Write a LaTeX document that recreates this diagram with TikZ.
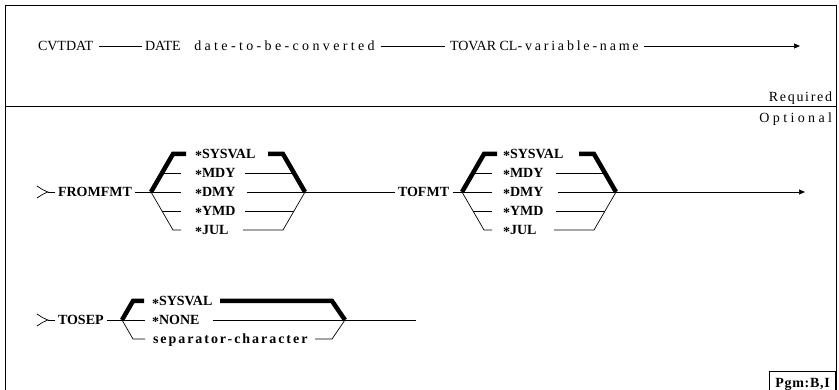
\documentclass[tikz,border=0pt]{standalone}
\usepackage{fontspec}
\setmainfont{Liberation Serif}
\newfontfamily\lsA[LetterSpace=20]{Liberation Serif}
\newfontfamily\lsD[LetterSpace=24]{Liberation Serif}
\newfontfamily\lsB[LetterSpace=14]{Liberation Serif}
\newfontfamily\lsR[LetterSpace=12]{Liberation Serif}
\newfontfamily\lsO[LetterSpace=24]{Liberation Serif}
\newfontfamily\lsP[LetterSpace=5]{Liberation Serif}
\newcommand\optstar{\raisebox{-2.5pt}{*}}
\usetikzlibrary{arrows.meta}
\tikzset{
  ln/.style={line width=0.7pt},
  bk/.style={line width=4.5pt, line join=miter},
  frm/.style={line width=0.8pt},
  txt/.style={anchor=west, inner sep=0pt, outer sep=0pt, text height=9pt, text depth=0pt, font=\fontsize{14}{16}\selectfont},
  opt/.style={txt, font=\fontsize{14}{16}\selectfont\bfseries},
  arr/.style={ln, -{Triangle[length=6pt,width=5pt]}},
}
\newcommand\fmtgrp[3]{%
  \begin{scope}[xshift=#2]
    \coordinate (#1L) at (151,192);
    \coordinate (#1TL) at (173,154);
    \coordinate (#1TLe) at (186,154);
    \coordinate (#1BL) at (173,230);
    \coordinate (#1BLe) at (181,230);
    \coordinate (#1Ma) at (162,173);
    \coordinate (#1Mb) at (181,173);
    \coordinate (#1Db) at (181,192);
    \coordinate (#1Ya) at (162,211);
    \coordinate (#1Yb) at (181,211);
    \coordinate (#1TRs) at (268,154);
    \coordinate (#1TR) at (283,154);
    \coordinate (#1R) at (305,192);
    \coordinate (#1Mc) at (245,173);
    \coordinate (#1Md) at (294,173);
    \coordinate (#1Dc) at (247,192);
    \coordinate (#1Yc) at (245,211);
    \coordinate (#1Yd) at (294,211);
    \coordinate (#1Jc) at (243,230);
    \coordinate (#1BR) at (283,230);
  \end{scope}
  \node[opt] (#1s) at (#3,154) {\optstar SYSVAL};
  \node[opt] (#1m) at (#3,173) {\optstar MDY};
  \node[opt] (#1d) at (#3,192) {\optstar DMY};
  \node[opt] (#1y) at (#3,211) {\optstar YMD};
  \node[opt] (#1j) at (#3,230) {\optstar JUL};
  \draw[bk] (#1TLe) -- (#1TL) -- (#1L);
  \draw[ln] (#1L) -- (#1BL) -- (#1BLe);
  \draw[ln] (#1Ma) -- (#1Mb);
  \draw[ln] (#1L) -- (#1Db);
  \draw[ln] (#1Ya) -- (#1Yb);
  \draw[bk] (#1TRs) -- (#1TR) -- (#1R);
  \draw[ln] (#1Mc) -- (#1Md);
  \draw[ln] (#1Dc) -- (#1R);
  \draw[ln] (#1Yc) -- (#1Yd);
  \draw[ln] (#1Jc) -- (#1BR) -- (#1R);
}
\begin{document}
\begin{tikzpicture}[x=1pt,y=-1pt]
\useasboundingbox (0,0) rectangle (839,390);
% frame
\draw[frm] (5,390) -- (5,5) -- (836,5) -- (836,390);
\draw[frm] (5,106) -- (836,106);
\node[txt, anchor=east, font=\fontsize{14}{16}\selectfont\lsR] (req) at (832,97) {Required};
\node[txt, anchor=east, font=\fontsize{14}{16}\selectfont\lsO] (optl) at (832,118) {Optional};
% required row
\node[txt] (cvt) at (38,46) {CVTDAT};
\node[txt] (date) at (145,46) {DATE\hspace{10pt} {\lsD date-to-be-converted}};
\node[txt] (tovar) at (450,46) {TOVAR CL{\lsA -variable-name}};
\coordinate (end1) at (800,46);
\draw[ln] ([xshift=6pt]cvt.east) -- ([xshift=-3pt]date.west);
\draw[ln] ([xshift=6pt]date.east) -- ([xshift=-5pt]tovar.west);
\draw[arr] ([xshift=5pt]tovar.east) -- (end1);
% FROMFMT row
\coordinate (gt1) at (48,192);
\draw[ln] (37,186) .. controls (43,190) .. (gt1) .. controls (43,194) .. (37,198);
\node[opt] (fromfmt) at (58,192) {FROMFMT};
\draw[ln] (gt1) -- ([xshift=-3pt]fromfmt.west);
\fmtgrp{a}{0}{195}
\draw[ln] ([xshift=3pt]fromfmt.east) -- (aL);
\node[opt] (tofmt) at (398,192) {TOFMT};
\draw[ln] (aR) -- ([xshift=-3pt]tofmt.west);
\fmtgrp{b}{311}{503}
\draw[ln] ([xshift=4pt]tofmt.east) -- (bL);
\coordinate (end2) at (805,192);
\draw[arr] (bR) -- (end2);
% TOSEP row
\coordinate (gt2) at (48,320);
\draw[ln] (37,314) .. controls (43,318) .. (gt2) .. controls (43,322) .. (37,326);
\node[opt] (tosep) at (58,320) {TOSEP};
\draw[ln] (gt2) -- ([xshift=-3pt]tosep.west);
\coordinate (cL) at (122,320);
\coordinate (cTL) at (133,301);
\coordinate (cTLe) at (144,301);
\coordinate (cBL) at (133,339);
\coordinate (cBLe) at (145,339);
\coordinate (cNb) at (145,320);
\coordinate (cTRs) at (220,301);
\coordinate (cTR) at (332,301);
\coordinate (cR) at (345,320);
\coordinate (cNc) at (213,320);
\coordinate (cBRs) at (315,339);
\coordinate (cBR) at (332,339);
\coordinate (end3) at (416,320);
\node[opt] (csys) at (152,301) {\optstar SYSVAL};
\node[opt] (cnone) at (152,320) {\optstar NONE};
\node[opt, font=\fontsize{14}{16}\selectfont\bfseries\lsB] (csep) at (153,339) {separator-character};
\draw[ln] ([xshift=3pt]tosep.east) -- (cL);
\draw[bk] (cTLe) -- (cTL) -- (cL);
\draw[ln] (cL) -- (cBL) -- (cBLe);
\draw[ln] (cL) -- (cNb);
\draw[bk] (cTRs) -- (cTR) -- (cR);
\draw[ln] (cNc) -- (cR);
\draw[ln] (cBRs) -- (cBR) -- (cR);
\draw[ln] (cR) -- (end3);
% program box
\node[draw, frm, anchor=north east, minimum width=66pt, minimum height=24pt, inner sep=0pt] (pgm) at (836,371) {};
\node[opt, anchor=center, font=\fontsize{14}{16}\selectfont\bfseries\lsP] (pgmt) at (pgm.center) {Pgm:B,I};
\end{tikzpicture}
\end{document}
